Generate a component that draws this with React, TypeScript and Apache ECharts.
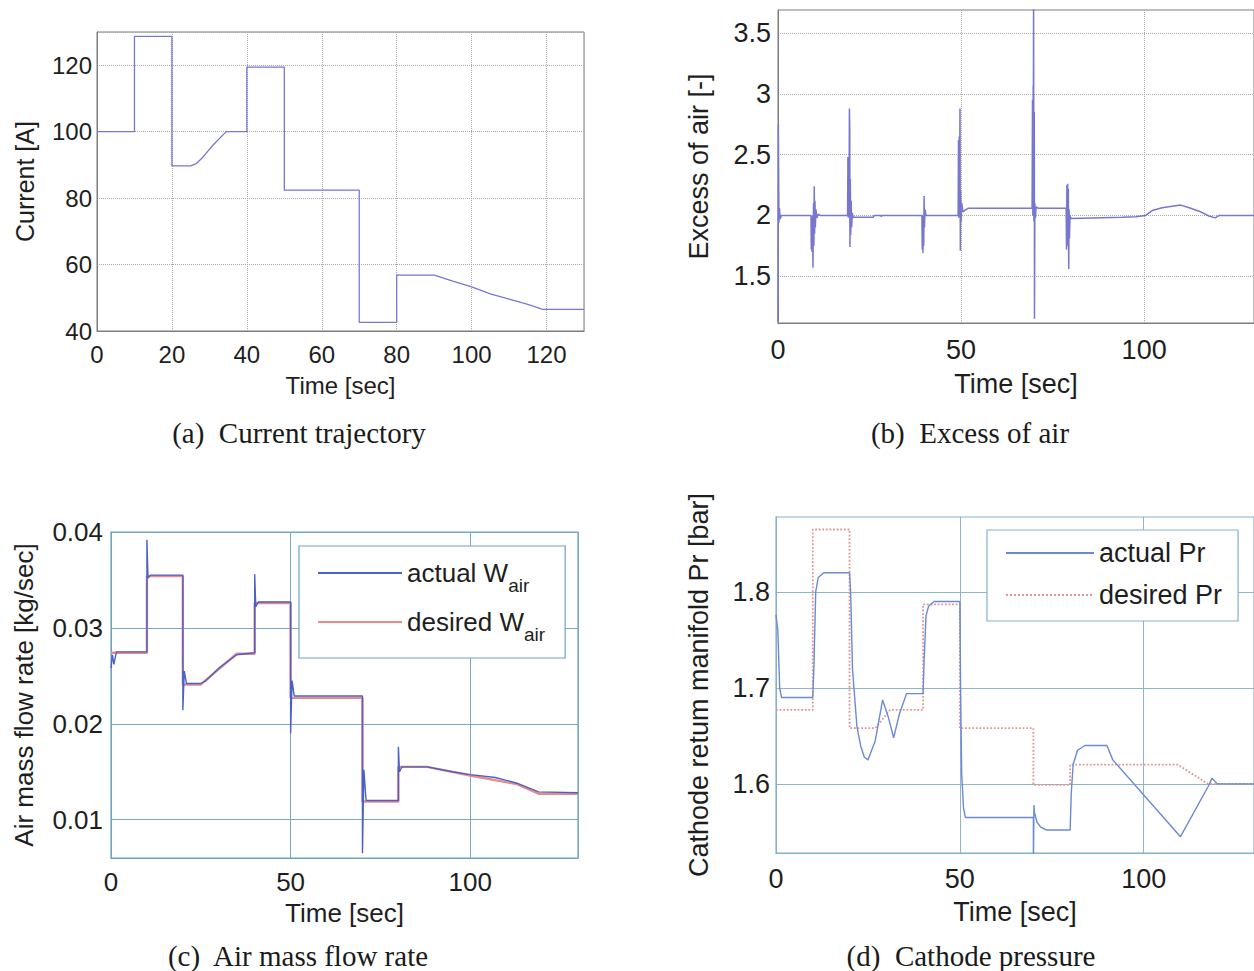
import React, { useEffect, useRef } from 'react';
import * as echarts from 'echarts';

const SANS = '"Liberation Sans", Arial, sans-serif';
const SERIF = '"Liberation Serif", "Times New Roman", serif';

// (a) Current trajectory
const currentT = [0, 10, 10, 20, 20, 25, 26.5, 28, 29.5, 31, 34.5, 40, 40, 50, 50, 70, 70, 80, 80, 90, 95, 100, 105, 110, 115, 119, 130];
const currentA = [100, 100, 128.7, 128.7, 89.7, 89.7, 90.4, 92, 94, 96, 100, 100, 119.4, 119.4, 82.4, 82.4, 42.6, 42.6, 56.8, 56.8, 55.0, 53.3, 51.2, 49.6, 48.0, 46.5, 46.5];

// (b) Excess of air
const excessT = [0, 0.1, 0.25, 0.4, 0.6, 0.9, 9.0, 9.1, 9.2, 9.3, 9.45, 9.55, 9.7, 9.8, 9.9, 10.0, 10.1, 10.2, 10.35, 10.6, 11, 11.5,
  19.0, 19.1, 19.2, 19.3, 19.4, 19.5, 19.6, 19.65, 19.75, 19.85, 20.0, 20.1, 20.3, 20.5, 26, 26.3, 28, 28.2, 28.4,
  39.3, 39.4, 39.5, 39.6, 39.7, 39.8, 39.9, 40.0, 40.15, 40.4,
  49.2, 49.3, 49.4, 49.5, 49.6, 49.7, 49.8, 49.9, 50.0, 50.2, 50.5, 51.2, 52,
  69.4, 69.5, 69.6, 69.7, 69.75, 69.8, 69.9, 70.0, 70.05, 70.15, 70.3, 70.5, 71,
  78.7, 78.8, 78.9, 79.0, 79.1, 79.2, 79.3, 79.4, 79.5, 79.6, 79.75, 80.0,
  94, 97.7, 100.4, 102.2, 104.9, 108.6, 110, 112.3, 115, 117.7, 119.4, 120.5, 130];
const excessV = [1.12, 2.75, 1.94, 2.06, 1.97, 2.0, 2.0, 1.72, 1.98, 1.70, 2.0, 1.57, 2.1, 1.75, 2.24, 1.85, 2.12, 1.9, 2.05, 1.98, 2.01, 2.0,
  2.0, 2.48, 1.98, 2.45, 2.0, 2.88, 2.7, 1.74, 2.3, 1.84, 2.12, 1.9, 2.02, 1.985, 1.985, 2.0, 2.0, 1.99, 2.0,
  2.0, 1.72, 1.98, 1.69, 2.0, 1.75, 2.16, 1.9, 2.05, 2.0,
  2.0, 2.62, 1.98, 2.65, 2.0, 2.88, 1.71, 2.2, 1.95, 2.1, 2.03, 2.045, 2.06,
  2.06, 2.95, 2.0, 3.07, 2.9, 3.75, 1.95, 2.85, 1.15, 2.1, 1.98, 2.07, 2.06,
  2.06, 1.72, 2.25, 1.75, 2.26, 1.78, 2.22, 1.56, 2.05, 1.81, 2.0, 1.975,
  1.985, 1.99, 2.0, 2.04, 2.063, 2.08, 2.085, 2.063, 2.035, 1.995, 1.98, 2.0, 2.0];
const excessTicks = [1.5, 2, 2.5, 3, 3.5];

// (c) Air mass flow rate
const airActT = [0, 0.4, 0.8, 1.5, 10, 10, 10.3, 11, 20, 20, 20.4, 21, 25, 26.5, 30, 35, 40, 40, 40.3, 41, 50, 50, 50.4, 51, 70, 70, 70.4, 71, 80, 80, 80.3, 81, 88, 95, 100, 107, 113, 119, 130];
const airActV = [0.0258, 0.0272, 0.0262, 0.0275, 0.0275, 0.0392, 0.0352, 0.0355, 0.0355, 0.0214, 0.0255, 0.0242, 0.0242, 0.0245, 0.0258, 0.0272, 0.0274, 0.0356, 0.0322, 0.0327, 0.0327, 0.0190, 0.0245, 0.0229, 0.0229, 0.0065, 0.0152, 0.0120, 0.0120, 0.0176, 0.0150, 0.0155, 0.0155, 0.0150, 0.0147, 0.0144, 0.0138, 0.0129, 0.0128];
const airDesT = [0, 10, 10, 20, 20, 25, 35, 40, 40, 50, 50, 70, 70, 80, 80, 88, 100, 113, 119, 130];
const airDesV = [0.0274, 0.0274, 0.0354, 0.0354, 0.0241, 0.0241, 0.0273, 0.0273, 0.0326, 0.0326, 0.0227, 0.0227, 0.0119, 0.0119, 0.0155, 0.0155, 0.0146, 0.0137, 0.0127, 0.0127];
const airTicks = [0.01, 0.02, 0.03, 0.04];

// (d) Cathode pressure
const prActT = [0, 0.5, 1, 1.5, 10, 10.3, 10.8, 11.5, 13, 20, 20.3, 20.8, 22, 23, 24, 25, 27, 29, 30.5, 32, 33.5, 35.5, 40, 40.3, 40.8, 41.5, 43, 50, 50.2, 50.5, 51, 51.5, 70, 70, 70.15, 70.3, 71, 72, 73.5, 80, 80.3, 80.8, 82, 84, 90, 91.6, 110, 117.5, 118.6, 120, 130];
const prActV = [1.776, 1.76, 1.70, 1.69, 1.69, 1.72, 1.80, 1.815, 1.82, 1.82, 1.80, 1.72, 1.66, 1.64, 1.628, 1.625, 1.645, 1.6875, 1.67, 1.648, 1.672, 1.694, 1.694, 1.73, 1.775, 1.785, 1.79, 1.79, 1.70, 1.61, 1.575, 1.565, 1.565, 1.51, 1.578, 1.57, 1.56, 1.555, 1.552, 1.552, 1.59, 1.62, 1.635, 1.64, 1.64, 1.625, 1.545, 1.597, 1.606, 1.60, 1.60];
const prDesT = [0, 10, 10, 20, 20, 27, 31, 40, 40, 50, 50, 70, 70, 80, 80, 109.3, 117.5, 130];
const prDesV = [1.677, 1.677, 1.865, 1.865, 1.658, 1.658, 1.677, 1.677, 1.787, 1.787, 1.658, 1.658, 1.599, 1.599, 1.62, 1.62, 1.60, 1.60];
const prTicks = [1.6, 1.7, 1.8];

const captions = ['(a)  Current trajectory', '(b)  Excess of air', '(c)  Air mass flow rate', '(d)  Cathode pressure'];

const zip = (t: number[], v: number[]) => t.map((x, i) => [x, v[i]]);

type GS = { box: string; line: string; type: 'solid' | 'dotted' };
const gA: GS = { box: '#7d7d7d', line: '#a8a8a8', type: 'dotted' };
const gC: GS = { box: '#6fa3b8', line: '#7aaabf', type: 'solid' };
const gD: GS = { box: '#86b2c9', line: '#8fb7cc', type: 'solid' };

function mkX(gi: number, interval: number, fs: number, margin: number, nameGap: number, g: GS) {
  return {
    type: 'value', gridIndex: gi, min: 0, max: 130, interval,
    name: 'Time [sec]', nameLocation: 'middle', nameGap, nameMoveOverlap: false,
    nameTextStyle: { fontSize: fs, color: '#1e1e1e', fontFamily: SANS },
    axisLine: { show: true, onZero: false, lineStyle: { color: g.box, width: 1 } },
    axisTick: { show: false },
    axisLabel: { fontSize: fs, color: '#1e1e1e', fontFamily: SANS, margin, showMaxLabel: false, showMinLabel: true },
    splitLine: { show: true, lineStyle: { color: g.line, type: g.type, width: 1 } },
  };
}

function mkY(gi: number, name: string, min: number, max: number, ticks: number[] | null, interval: number, fs: number, nfs: number, margin: number, nameGap: number, g: GS) {
  const ax: any = {
    type: 'value', gridIndex: gi, min, max,
    name, nameLocation: 'middle', nameGap, nameRotate: 90, nameMoveOverlap: false,
    nameTextStyle: { fontSize: nfs, color: '#1e1e1e', fontFamily: SANS },
    axisLine: { show: true, onZero: false, lineStyle: { color: g.box, width: 1 } },
    axisTick: { show: false },
    axisLabel: { fontSize: fs, color: '#1e1e1e', fontFamily: SANS, margin },
    splitLine: { show: true, lineStyle: { color: g.line, type: g.type, width: 1 } },
  };
  if (ticks) {
    ax.axisTick.customValues = ticks;
    ax.axisLabel.customValues = ticks;
  } else {
    ax.interval = interval;
    ax.axisLabel.showMaxLabel = false;
  }
  return ax;
}

const legendBase = {
  orient: 'vertical', selectedMode: false, backgroundColor: '#ffffff', borderWidth: 1.2,
  itemHeight: 14, itemStyle: { opacity: 0 },
};

export default function App() {
  const ref = useRef<HTMLDivElement>(null);
  useEffect(() => {
    document.body.style.margin = '0';
    const chart = echarts.init(ref.current!, null, { renderer: 'svg' });
    const cap = (i: number, x: number, y: number) => ({
      type: 'text', x, y,
      style: { text: captions[i], fontSize: 29, fontFamily: SERIF, fill: '#1a1a1a', align: 'center', verticalAlign: 'middle' },
    });
    const option: any = {
      animation: false,
      backgroundColor: '#ffffff',
      grid: [
        { left: 97, top: 32, width: 487, height: 299, show: true, borderColor: gA.box, borderWidth: 1, backgroundColor: 'transparent' },
        { left: 778, top: 10, width: 477, height: 313, show: true, borderColor: gA.box, borderWidth: 1, backgroundColor: 'transparent' },
        { left: 111, top: 532, width: 467, height: 326, show: true, borderColor: gC.box, borderWidth: 1.2, backgroundColor: 'transparent' },
        { left: 776, top: 517, width: 480, height: 336, show: true, borderColor: gD.box, borderWidth: 1.2, backgroundColor: 'transparent' },
      ],
      xAxis: [
        mkX(0, 20, 24, 11, 42, gA),
        mkX(1, 50, 27, 13, 47, gA),
        mkX(2, 50, 26, 11, 42, gC),
        mkX(3, 50, 27, 12, 45, gD),
      ],
      yAxis: [
        mkY(0, 'Current [A]', 40, 130, null, 20, 24, 25, 5, 60, gA),
        mkY(1, 'Excess of air [-]', 1.115, 3.69, excessTicks, 0.5, 27, 27, 7, 66, gA),
        mkY(2, 'Air mass flow rate [kg/sec]', 0.006, 0.04, airTicks, 0.01, 26, 26, 8, 74, gC),
        mkY(3, 'Cathode retum manifold Pr [bar]', 1.528, 1.878, prTicks, 0.1, 27, 27, 6, 64, gD),
      ],
      legend: [
        {
          ...legendBase,
          data: ['actual W_air', 'desired W_air'],
          left: 299, top: 546,
          padding: [14, 20, 14, 18],
          itemGap: 14, itemWidth: 84,
          borderColor: gC.box,
          formatter: (name: string) => (name === 'actual W_air' ? '{n|actual W}{s|air}' : '{n|desired W}{s|air}'),
          textStyle: {
            color: '#1e1e1e', fontSize: 26, fontFamily: SANS,
            rich: {
              n: { fontSize: 26, lineHeight: 44, color: '#1e1e1e', fontFamily: SANS },
              s: { fontSize: 19, lineHeight: 20, verticalAlign: 'bottom', color: '#1e1e1e', fontFamily: SANS },
            },
          },
        },
        {
          ...legendBase,
          data: ['actual Pr', 'desired Pr'],
          left: 987, top: 530,
          padding: [9, 16, 12, 18],
          itemGap: 14, itemWidth: 88,
          borderColor: gD.box,
          textStyle: { color: '#1e1e1e', fontSize: 27, lineHeight: 28, fontFamily: SANS },
        },
      ],
      series: [
        { type: 'line', name: 'Current', xAxisIndex: 0, yAxisIndex: 0, data: zip(currentT, currentA), symbol: 'none', silent: true, lineStyle: { color: '#7777d6', width: 1.3 } },
        { type: 'line', name: 'Excess of air', xAxisIndex: 1, yAxisIndex: 1, data: zip(excessT, excessV), symbol: 'none', silent: true, lineStyle: { color: '#7777d0', width: 1.5 } },
        { type: 'line', name: 'desired W_air', xAxisIndex: 2, yAxisIndex: 2, data: zip(airDesT, airDesV), symbol: 'none', silent: true, itemStyle: { color: '#e88a8a' }, lineStyle: { color: '#e88a8a', width: 2.4 } },
        { type: 'line', name: 'actual W_air', xAxisIndex: 2, yAxisIndex: 2, data: zip(airActT, airActV), symbol: 'none', silent: true, itemStyle: { color: '#4a62c8' }, lineStyle: { color: '#4a62c8', width: 1.4 } },
        { type: 'line', name: 'desired Pr', xAxisIndex: 3, yAxisIndex: 3, data: zip(prDesT, prDesV), symbol: 'none', silent: true, itemStyle: { color: '#e39595' }, lineStyle: { color: '#e39595', width: 1.8, type: 'dotted' } },
        { type: 'line', name: 'actual Pr', xAxisIndex: 3, yAxisIndex: 3, data: zip(prActT, prActV), symbol: 'none', silent: true, itemStyle: { color: '#6a8ad4' }, lineStyle: { color: '#6a8ad4', width: 1.4 } },
      ],
      graphic: [cap(0, 299, 433), cap(1, 970, 433), cap(2, 298, 956), cap(3, 971, 956)],
    };
    chart.setOption(option);
    return () => chart.dispose();
  }, []);
  return <div ref={ref} style={{ width: 1254, height: 971 }} />;
}
